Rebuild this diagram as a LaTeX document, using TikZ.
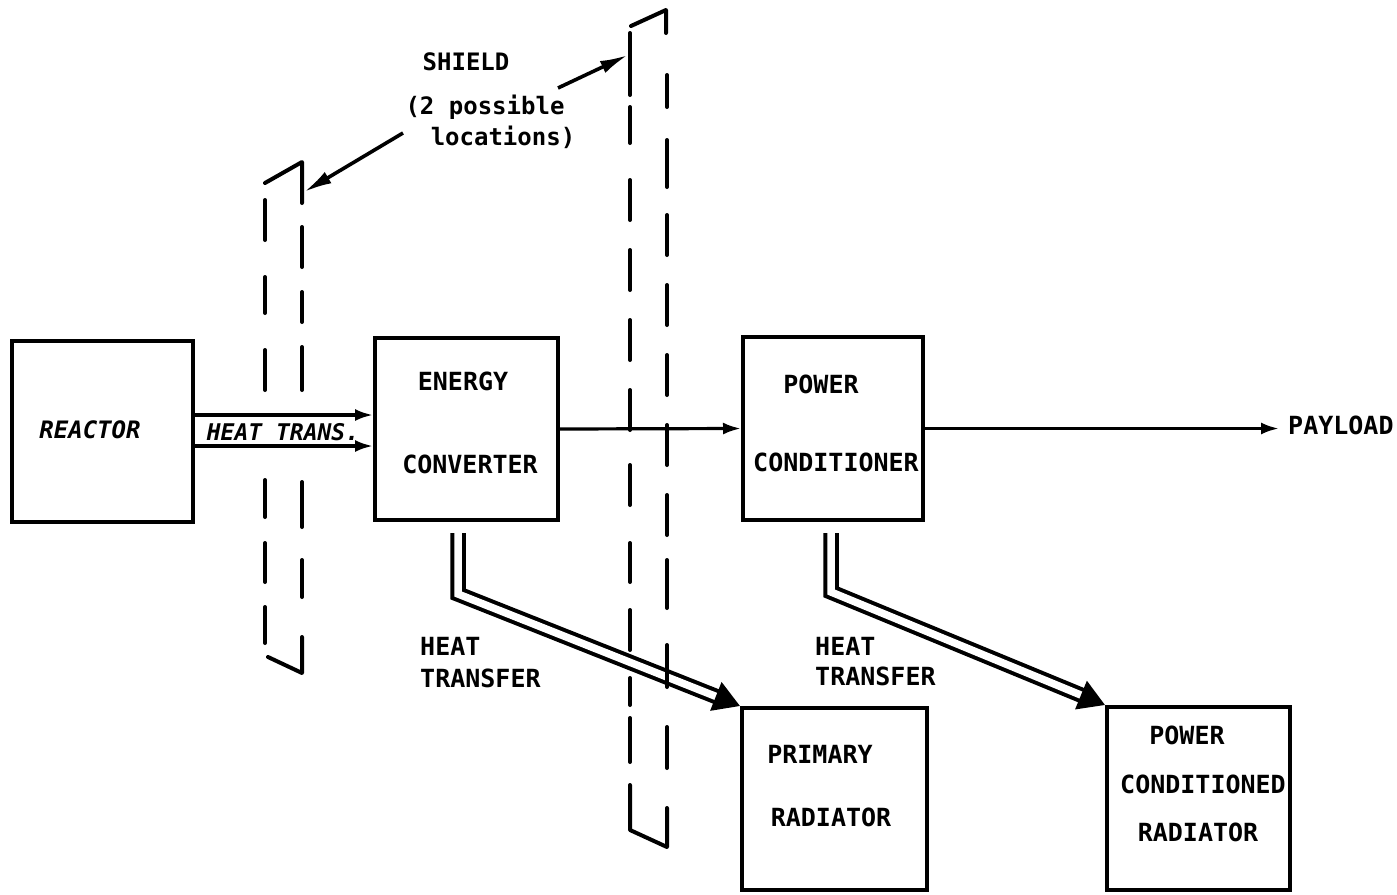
\documentclass[tikz,border=0pt]{standalone}
\usepackage{fontspec}
\setmonofont{DejaVu Sans Mono}
\usetikzlibrary{arrows.meta}
\begin{document}
\begin{tikzpicture}[x=1pt,y=-1pt,
  box/.style={draw, line width=4pt, inner sep=0pt},
  lbl/.style={font=\ttfamily\bfseries\fontsize{25}{30}\selectfont, inner sep=0pt},
  arr/.style={line width=3.2pt, -{Latex[length=18pt,width=12pt]}},
  longarr/.style={line width=3.6pt, -{Latex[length=28pt,width=13pt]}},
  pipe/.style={line width=4pt, double=white, double distance=7.5pt, -{Triangle[length=26pt,width=30pt]}},
  shieldline/.style={line width=4pt, line cap=round, line join=round}]
\useasboundingbox (0,0) rectangle (1397,894);

% boxes
\node[box, minimum width=181pt, minimum height=181pt] (reactor) at (102.5,431.5) {};
\node[box, minimum width=183pt, minimum height=182pt] (conv) at (466.5,429) {};
\node[box, minimum width=180pt, minimum height=183pt] (cond) at (833,428.5) {};
\node[box, minimum width=185pt, minimum height=182pt] (prim) at (834.5,799) {};
\node[box, minimum width=183pt, minimum height=183pt] (pcr) at (1198.5,798.5) {};

% box texts
\node[lbl, font=\ttfamily\bfseries\itshape\fontsize{24}{28}\selectfont] (treactor) at (90,430) {REACTOR};
\node[lbl] (tenergy) at (463,381) {ENERGY};
\node[lbl] (tconverter) at (470,464) {CONVERTER};
\node[lbl] (tpower) at (821,384) {POWER};
\node[lbl] (tconditioner) at (836,462) {CONDITIONER};
\node[lbl] (tprimary) at (820,754) {PRIMARY};
\node[lbl] (tradiator) at (831,817) {RADIATOR};
\node[lbl] (tpower2) at (1187,735) {POWER};
\node[lbl] (tconditioned) at (1203,784) {CONDITIONED};
\node[lbl] (tradiator2) at (1198,832) {RADIATOR};
\node[lbl, anchor=west] (payload) at (1288,425) {PAYLOAD};
\node[lbl, anchor=west] (theat1) at (420,646) {HEAT};
\node[lbl, anchor=west] (ttransfer1) at (420,678) {TRANSFER};
\node[lbl, anchor=west] (theat2) at (815,646) {HEAT};
\node[lbl, anchor=west] (ttransfer2) at (815,676) {TRANSFER};
\node[lbl, font=\ttfamily\bfseries\itshape\fontsize{23}{28}\selectfont] (theattrans) at (283,432) {HEAT TRANS.};
\node[lbl, font=\ttfamily\bfseries\fontsize{24}{28}\selectfont] (tshield) at (466,62) {SHIELD};
\node[lbl, font=\ttfamily\bfseries\fontsize{24}{28}\selectfont] (tpossible) at (485,107) {(2 possible};
\node[lbl, font=\ttfamily\bfseries\fontsize{24}{28}\selectfont] (tlocations) at (503,137) {locations)};

% connectors
\draw[arr] (reactor.east |- 0,415) -- (conv.west |- 0,415);
\draw[arr] (reactor.east |- 0,446) -- (conv.west |- 0,446);
\draw[arr] (conv.east) -- (cond.west);
\draw[arr, shorten >=9pt] (cond.east) -- (cond.east -| payload.west);

\coordinate (hs1) at (458,533);
\coordinate (hs2) at (831,533);
\draw[pipe] (hs1) -- (458,594) -- (prim.north west);
\draw[pipe] (hs2) -- (831,592) -- (pcr.north west);

% shield 1
\draw[shieldline] (265,183) -- (302,162) -- (302,203);
\draw[shieldline] (268,657) -- (302,673) -- (302,637);
\foreach \a/\b in {200/240, 277/313, 350/390, 480/517, 543/582, 607/643}
  \draw[shieldline] (265,\a) -- (265,\b);
\foreach \a/\b in {227/267, 292/322, 347/390, 482/527, 560/597}
  \draw[shieldline] (302,\a) -- (302,\b);

% shield 2
\draw[shieldline] (631,26) -- (666,10) -- (666,33);
\draw[shieldline] (630,785) -- (630,830) -- (667,847) -- (667,808);
\foreach \a/\b in {33/95, 107/143, 180/220, 250/290, 320/360, 390/430, 465/505, 543/582, 610/650, 678/705, 718/762}
  \draw[shieldline] (630,\a) -- (630,\b);
\foreach \a/\b in {75/107, 140/187, 215/255, 285/325, 355/395, 425/465, 495/535, 560/608, 645/687, 727/768}
  \draw[shieldline] (667,\a) -- (667,\b);

% shield pointers
\coordinate (sh1tail) at (403,133);
\coordinate (sh1) at (304,192);
\coordinate (sh2tail) at (558,88);
\coordinate (sh2) at (628,55);
\draw[longarr] (sh1tail) -- (sh1);
\draw[longarr] (sh2tail) -- (sh2);
\end{tikzpicture}
\end{document}
